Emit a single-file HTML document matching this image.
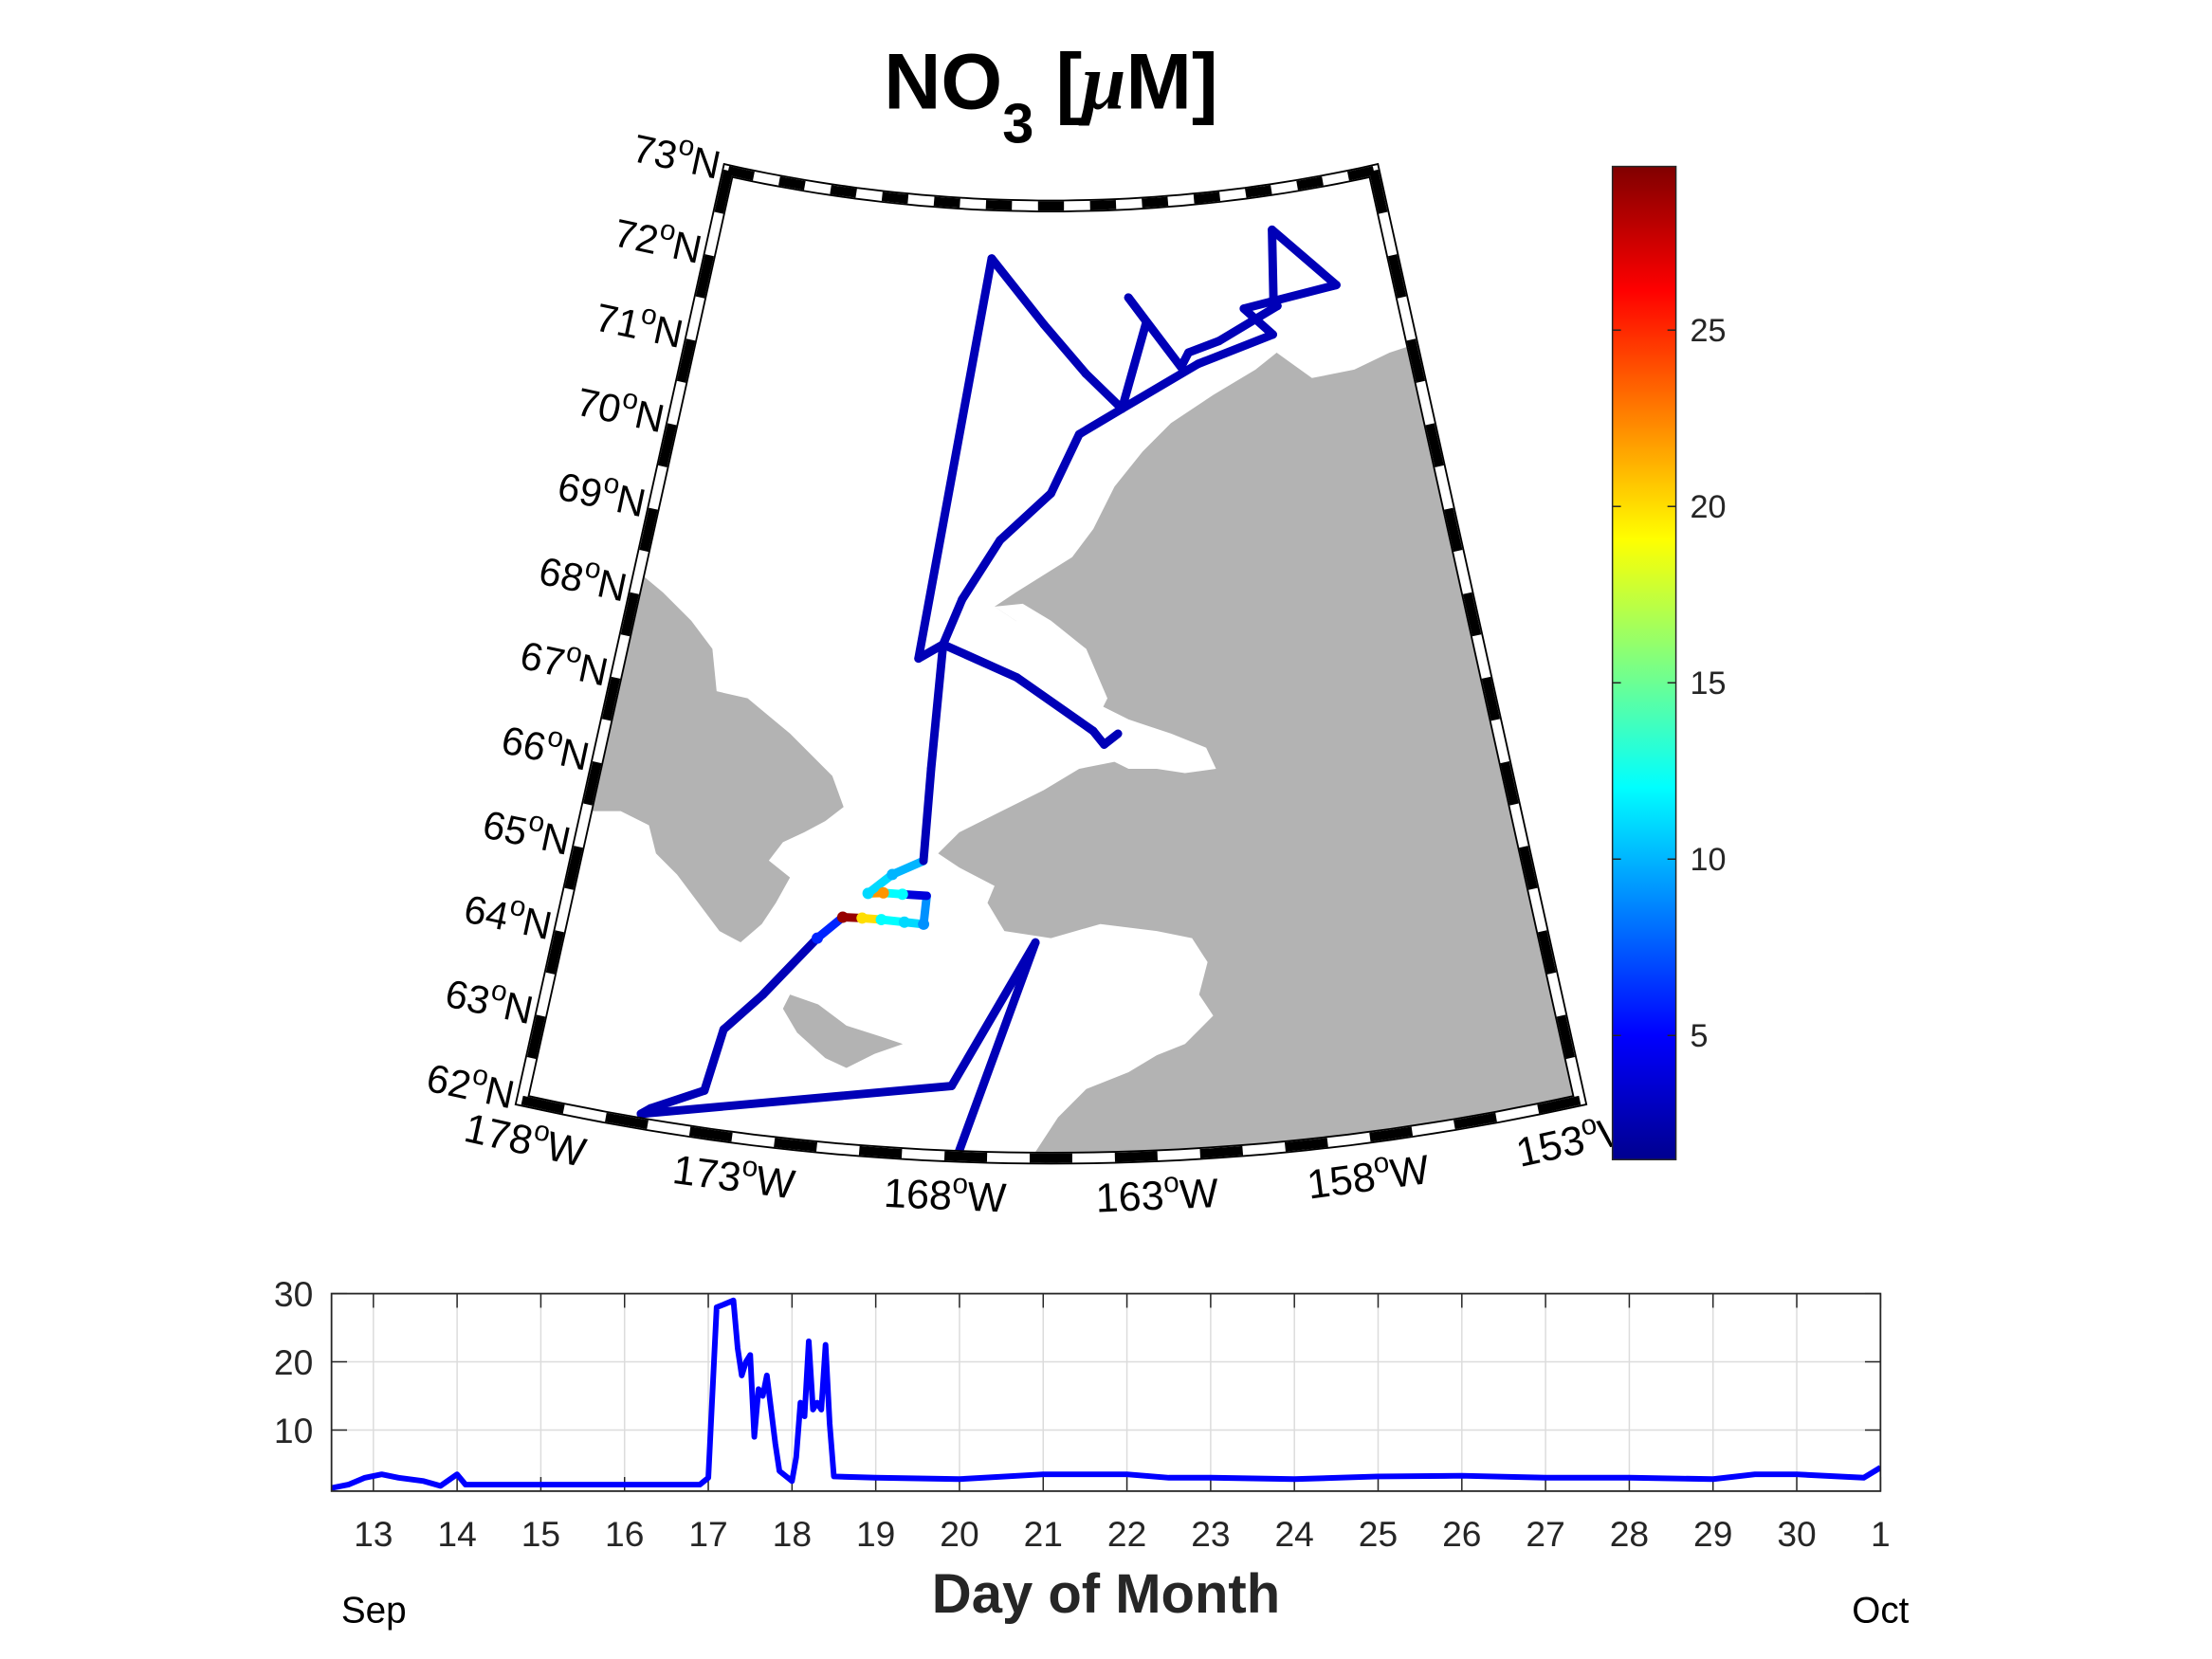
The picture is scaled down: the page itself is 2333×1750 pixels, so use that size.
<!DOCTYPE html>
<html><head><meta charset="utf-8"><style>
html,body{margin:0;padding:0;background:#fff;}
svg{display:block;font-family:"Liberation Sans",sans-serif;}
</style></head><body>
<svg id="fig" width="2333" height="1750" viewBox="0 0 1568 1176" preserveAspectRatio="none" xmlns="http://www.w3.org/2000/svg">
<defs>
<linearGradient id="jet" x1="0" y1="1" x2="0" y2="0">
<stop offset="0" stop-color="#00008f"/><stop offset="0.125" stop-color="#0000ff"/><stop offset="0.375" stop-color="#00ffff"/><stop offset="0.625" stop-color="#ffff00"/><stop offset="0.875" stop-color="#ff0000"/><stop offset="1" stop-color="#800000"/>
</linearGradient>
<clipPath id="mapclip"><path id="clipPath"/></clipPath>
<clipPath id="tsclip"><rect x="235" y="917" width="1098" height="140"/></clipPath>
</defs>
<text x="745" y="77" text-anchor="middle" font-size="56" font-weight="bold">NO<tspan font-size="40" dy="24">3</tspan><tspan dy="-24"> [</tspan><tspan font-style="italic" font-family="Liberation Serif, serif">μ</tspan>M]</text>
<g id="map"></g>
<g id="colorbar"></g>
<g id="ts"></g>
</svg>
<script>
// ---- map track data ----
const trackLon=[-167.7,-165.9,-167.9,-175.2,-175.0,-173.8,-173.55,-172.7,-171.5,-170.9,-170.4,-169.9,-169.3,-168.8,-168.76,-169.4,-169.9,-170.3,-169.7,-168.9,-168.84,-168.7,-169.4,-167.7,-165.75,-164.3,-163.1,-162.1,-162.7,-161.0,-160.7,-159.6,-157.4,-157.5,-157.2,-155.2,-158.6,-157.7,-160.4,-163.1,-164.56,-165.5,-167.1,-168.2,-168.7,-166.5,-164.3,-164.0,-163.6];
const trackLat=[62.0,64.49,62.81,62.11,62.19,62.49,63.22,63.68,64.4,64.67,64.68,64.68,64.67,64.66,64.99,64.99,64.99,64.97,65.21,65.39,66.46,67.9,67.72,72.38,71.63,71.06,70.64,71.63,71.92,71.08,71.24,71.34,71.66,71.76,72.54,71.79,71.68,71.34,71.1,70.64,70.36,69.68,69.13,68.43,67.9,67.55,66.93,66.77,66.89];
const trackNO3=[3,3,3,3,3,3,3,3,6,29,20,12,11,9,4,12,22,11,10,3,3,3,3,3,3,3,3,3,3,3,3,3,3,3,3,3,3,3,3,3,3,3,3,3,3,3,3,3,3];
const latTicks=[73,72,71,70,69,68,67,66,65,64,63,62];
const lonTicks=[-178,-173,-168,-163,-158,-153];
const cbTicks=[5,10,15,20,25];
const cbMin=1.48, cbMax=29.64;
// ---- time series data ----
const tsDay=[12.5,12.7,12.9,13.1,13.3,13.6,13.8,14.0,14.1,14.5,15,16,16.9,17.0,17.1,17.2,17.3,17.35,17.4,17.45,17.5,17.55,17.6,17.65,17.7,17.8,17.85,17.95,18.0,18.05,18.1,18.15,18.2,18.25,18.3,18.35,18.4,18.45,18.5,19,20,21,22,22.5,23,24,25,26,27,28,29,29.5,30,30.8,31];
const tsVal=[1.5,2,3,3.5,3,2.5,1.8,3.5,2,2,2,2,2,3,28,28.5,29,22,18,20,21,9,16,15,18,8,4,3,2.5,6,14,12,23,13,14,13,22.5,11,3.2,3,2.8,3.5,3.5,3,3,2.8,3.2,3.3,3,3,2.8,3.5,3.5,3,4.5];
const xTicks=[13,14,15,16,17,18,19,20,21,22,23,24,25,26,27,28,29,30,31];
const xTickLabels=["13","14","15","16","17","18","19","20","21","22","23","24","25","26","27","28","29","30","1"];
const yTicks=[10,20,30];

const NS="http://www.w3.org/2000/svg";
function mk(tag,attrs,parent){const e=document.createElementNS(NS,tag);for(const k in attrs)e.setAttribute(k,attrs[k]);parent.appendChild(e);return e;}
function proj(lon,lat){const a=(lon+165.5)*Math.PI/180;const r=1057+(73-lat)*61.36;return [745+r*Math.sin(a),-911+r*Math.cos(a)];}
function jet(v){let t=(v-cbMin)/(cbMax-cbMin);t=Math.max(0,Math.min(1,t));
 const f=x=>Math.max(0,Math.min(1,x));
 const r=f(Math.min(4*t-1.5,-4*t+4.5)),g=f(Math.min(4*t-0.5,-4*t+3.5)),b=f(Math.min(4*t+0.5,-4*t+2.5));
 return `rgb(${Math.round(r*255)},${Math.round(g*255)},${Math.round(b*255)})`;}
const P=pts=>"M"+pts.map(p=>p[0].toFixed(1)+","+p[1].toFixed(1)).join("L");

// map
const map=document.getElementById('map');
let fp=[];
for(let l=-178;l<=-153;l+=0.5)fp.push(proj(l,73));
for(let l=-153;l>=-178;l-=0.5)fp.push(proj(l,62));
const fd=P(fp)+"Z";
document.getElementById('clipPath').setAttribute('d',fd);
const land=mk('g',{'clip-path':'url(#mapclip)'},map);


const landPolys=[
"1000,245 985,250 960,262 930,268 905,250 890,262 860,280 830,300 810,320 790,345 775,375 760,395 720,420 705,430 720,440 740,450 760,470 770,490 780,500 800,510 815,515 830,520 855,530 862,545 840,548 820,545 800,545 790,540 765,545 740,560 710,575 680,590 665,605 680,615 705,628 700,640 712,660 745,665 780,655 820,660 845,665 856,682 850,705 860,720 840,740 820,748 800,760 770,772 750,792 735,815 725,830 900,820 1130,800 1120,760 1003,240",
"452,405 470,420 490,440 505,460 508,490 530,495 560,520 590,550 598,572 585,582 570,590 555,597 545,610 560,622 550,640 540,655 525,668 510,660 495,640 480,620 465,605 460,585 440,575 420,575 380,560 420,400",
"560,705 580,712 600,727 625,735 640,740 620,747 600,757 585,750 565,732 555,715"];
landPolys.forEach(p=>{const e=mk('polygon',{points:p,fill:'#b3b3b3'},land);
 
 });
mk('polygon',{points:"705,430 725,428 745,440 770,460 785,495 780,505 760,480 740,455 720,440",fill:'#fff'},land);
mk('polygon',{points:"800,520 820,522 845,530 850,545 830,545 810,540 795,530",fill:'#fff'},land);
// track
const tr=mk('g',{},map);


for(let i=0;i<trackLon.length-1;i++){
 const a=proj(trackLon[i],trackLat[i]),b=proj(trackLon[i+1],trackLat[i+1]);
 const s=mk('line',{x1:a[0],y1:a[1],x2:b[0],y2:b[1],stroke:jet(trackNO3[i]),'stroke-width':6,'stroke-linecap':'round'},tr);
 
 
}
for(let i=0;i<trackLon.length;i++){
 if(trackNO3[i]>4){const a=proj(trackLon[i],trackLat[i]);
 const c=mk('circle',{cx:a[0],cy:a[1],r:4,fill:jet(trackNO3[i])},tr);
 
 }
}
// frame
const fr=mk('g',{},map);


mk('path',{d:fd,fill:'none',stroke:'#000','stroke-width':9,'stroke-linejoin':'miter'},fr);
mk('path',{d:fd,fill:'none',stroke:'#fff','stroke-width':6.5,'stroke-linejoin':'miter'},fr);
for(let l=-178;l<-153;l+=2){
 [73,62].forEach(la=>{const pts=[];for(let k=0;k<=4;k++)pts.push(proj(l+0.25*k,la));
  mk('path',{d:P(pts),fill:'none',stroke:'#000','stroke-width':6.5},fr);});
}
for(let la=62.5;la<73;la+=1){
 [-178,-153].forEach(lo=>{mk('path',{d:P([proj(lo,la),proj(lo,la+0.5)]),fill:'none',stroke:'#000','stroke-width':6.5},fr);});
}
// lat labels
latTicks.forEach(la=>{const p=proj(-178,la);
 const x=p[0]-8,y=p[1]+6;
 const t=mk('text',{x:x,y:y,'text-anchor':'end','font-size':28,transform:`rotate(12 ${x} ${y})`},map);
 
 
 t.innerHTML=`${la}<tspan font-size="20" dy="-12">o</tspan><tspan dy="12">N</tspan>`;});
lonTicks.forEach(lo=>{const p=proj(lo,62);const ang=(lo+165.5);
 const x=p[0],y=p[1]+38;
 const t=mk('text',{x:x,y:y,'text-anchor':'middle','font-size':29,transform:`rotate(${-ang} ${x} ${y})`},map);
 
 
 t.innerHTML=`${-lo}<tspan font-size="20" dy="-12">o</tspan><tspan dy="12">W</tspan>`;});

// colorbar
const cb=document.getElementById('colorbar');
const cbY=v=>822-(v-cbMin)/(cbMax-cbMin)*704;
mk('rect',{x:1143,y:118,width:45,height:704,fill:'url(#jet)',stroke:'#262626','stroke-width':1},cb);
cbTicks.forEach(v=>{const y=cbY(v);
 mk('line',{x1:1143,y1:y,x2:1149,y2:y,stroke:'#262626'},cb);
 mk('line',{x1:1182,y1:y,x2:1188,y2:y,stroke:'#262626'},cb);
 const t=mk('text',{x:1198,y:y+8,'font-size':23,fill:'#262626'},cb);
 
 
 t.textContent=v;});

// time series
const ts=document.getElementById('ts');
const X=d=>235+(d-12.5)*(1098/18.5);
const Y=v=>1057-(v-1.04)*(140/28.96);
mk('rect',{x:235,y:917,width:1098,height:140,fill:'#fff'},ts);
xTicks.forEach((d,i)=>{const x=X(d);
 mk('line',{x1:x,y1:917,x2:x,y2:1057,stroke:'#dcdcdc','stroke-width':1},ts);
 mk('line',{x1:x,y1:917,x2:x,y2:927,stroke:'#262626'},ts);
 mk('line',{x1:x,y1:1047,x2:x,y2:1057,stroke:'#262626'},ts);
 const t=mk('text',{x:x,y:1096,'text-anchor':'middle','font-size':25,fill:'#262626'},ts);
 
 
 t.textContent=xTickLabels[i];});
yTicks.forEach(v=>{const y=Y(v);
 mk('line',{x1:235,y1:y,x2:1333,y2:y,stroke:'#dcdcdc','stroke-width':1},ts);
 mk('line',{x1:235,y1:y,x2:246,y2:y,stroke:'#262626'},ts);
 mk('line',{x1:1322,y1:y,x2:1333,y2:y,stroke:'#262626'},ts);
 const t=mk('text',{x:222,y:y+9,'text-anchor':'end','font-size':25,fill:'#262626'},ts);
 
 
 t.textContent=v;});
const line=mk('polyline',{points:tsDay.map((d,i)=>X(d).toFixed(1)+","+Y(tsVal[i]).toFixed(1)).join(" "),fill:'none',stroke:'#0000ff','stroke-width':4,'stroke-linejoin':'round','clip-path':'url(#tsclip)'},ts);


mk('rect',{x:235,y:917,width:1098,height:140,fill:'none',stroke:'#262626','stroke-width':1.2},ts);
const xl=mk('text',{x:784,y:1143,'text-anchor':'middle','font-size':39,'font-weight':'bold',fill:'#262626'},ts);


xl.textContent="Day of Month";
const s1=mk('text',{x:265,y:1150,'text-anchor':'middle','font-size':26,fill:'#000'},ts);


s1.textContent="Sep";
const s2=mk('text',{x:1333,y:1150,'text-anchor':'middle','font-size':26,fill:'#000'},ts);


s2.textContent="Oct";
</script>
</body></html>
